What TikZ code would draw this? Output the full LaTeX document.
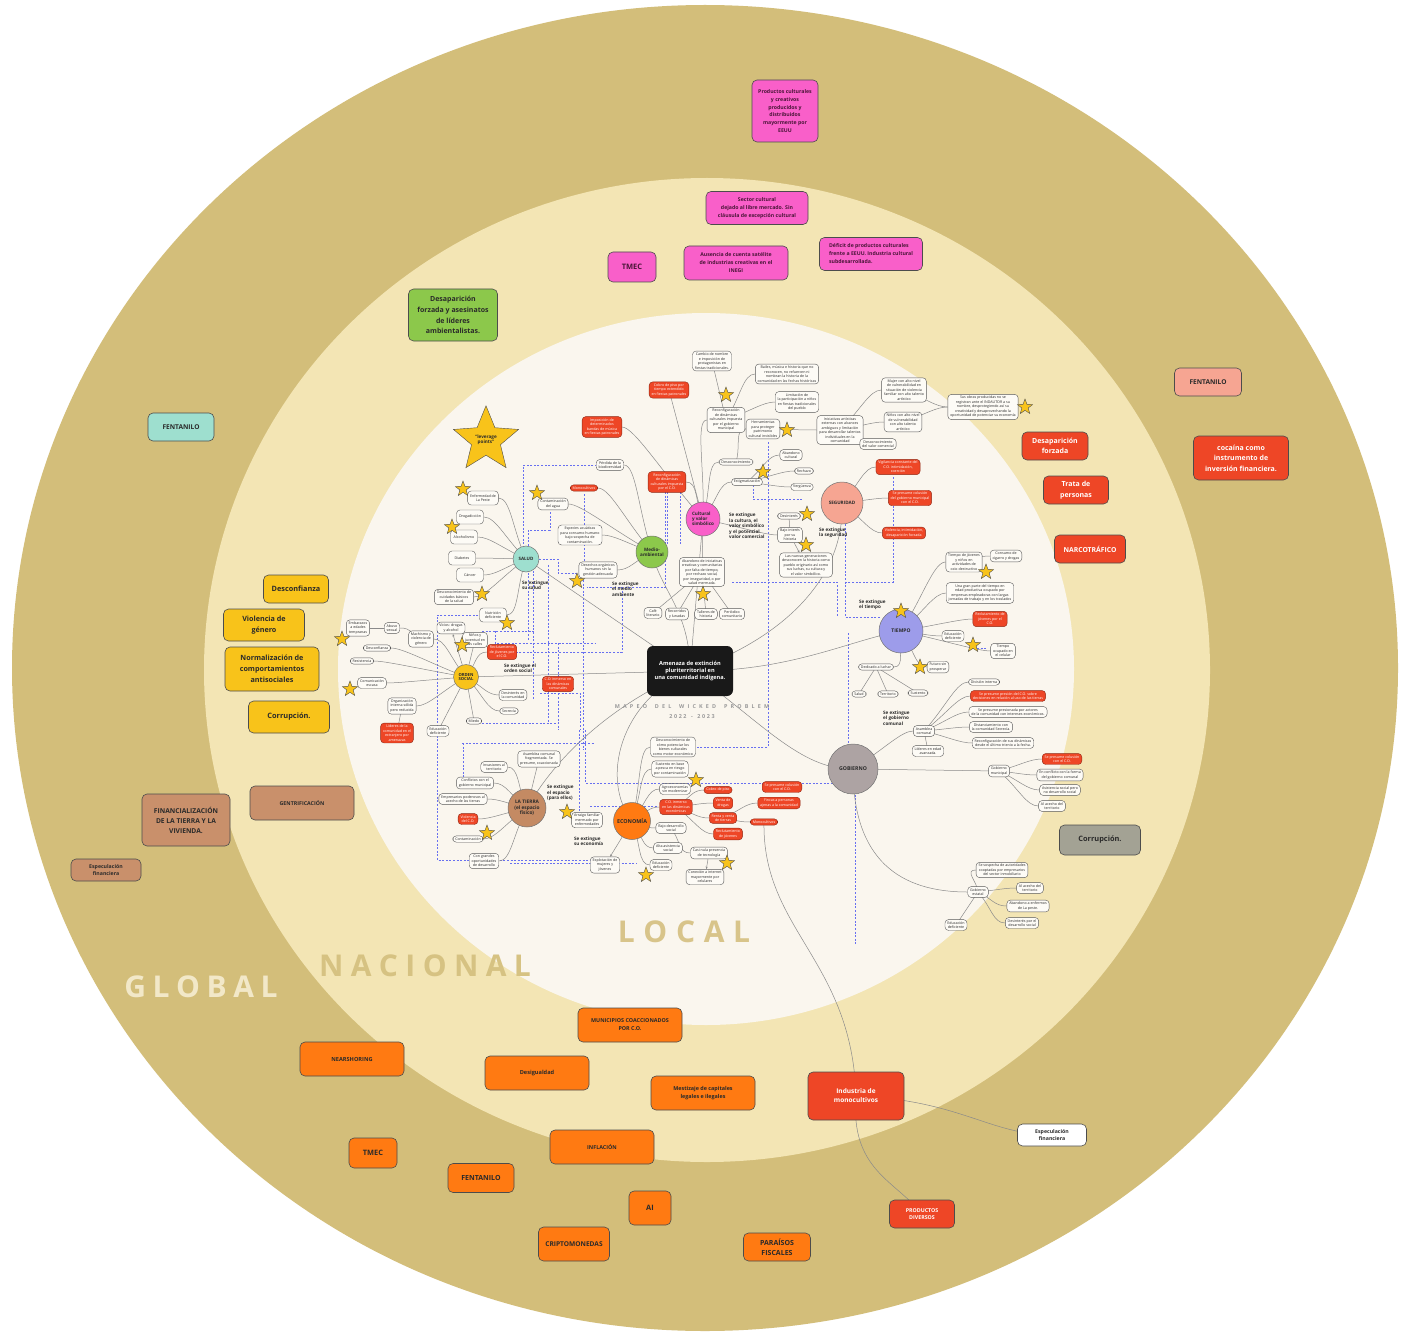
\documentclass[tikz,border=0pt]{standalone}
\usepackage{fontspec}
\setmainfont{Open Sans}
\usetikzlibrary{shapes.geometric,calc,arrows.meta}
\pgfdeclarelayer{rings}
\pgfdeclarelayer{edges}
\pgfsetlayers{rings,edges,main}
\definecolor{ringA}{HTML}{D3BE7A}
\definecolor{ringB}{HTML}{F3E5B4}
\definecolor{ringC}{HTML}{FAF6EE}
\definecolor{pinkc}{HTML}{F95FC9}
\definecolor{redc}{HTML}{EE4626}
\definecolor{orangec}{HTML}{FF7A12}
\definecolor{yellowc}{HTML}{F8C31A}
\definecolor{greenc}{HTML}{8CC84B}
\definecolor{brownc}{HTML}{C9906B}
\definecolor{salmonc}{HTML}{F6A592}
\definecolor{tealc}{HTML}{9EDFCF}
\definecolor{grayc}{HTML}{A3A294}
\definecolor{lilac}{HTML}{9D9CEA}
\definecolor{gobc}{HTML}{ADA3A3}
\definecolor{tierrac}{HTML}{C48A63}
\definecolor{leaffill}{HTML}{FDFBF6}
\definecolor{conncol}{HTML}{8A8A8A}
\definecolor{dashcol}{HTML}{6870F0}
\definecolor{inkc}{HTML}{2A2A2A}
\definecolor{pinkink}{HTML}{4A1538}
\definecolor{globalc}{HTML}{F2E8C8}
\definecolor{nacionalc}{HTML}{D6C282}
\definecolor{localc}{HTML}{D8C48A}
\makeatletter
\newcommand\spreadit[2]{\def\sp@gap{#1}\@tfor\sp@c:=#2\do{\sp@c\hspace{\sp@gap}}\unskip}
\makeatother
\newcommand\cnL[2]{\draw[conn] (#1.center) .. controls ($(#1.center)!0.5!(#2.east)$) and ($(#2.east)+(12,0)$) .. (#2.east);}
\newcommand\cnR[2]{\draw[conn] (#1.center) .. controls ($(#1.center)!0.5!(#2.west)$) and ($(#2.west)+(-12,0)$) .. (#2.west);}
\newcommand\cnS[2]{\draw[conn] (#1.center) -- (#2.center);}
\tikzset{
 leaf/.style={draw=black!65, fill=leaffill, line width=0.4pt, rounded corners=3.5pt, align=center, inner xsep=2.4pt, inner ysep=1.8pt, text=inkc, font=\fontsize{3.6}{4.5}\selectfont},
 rleaf/.style={leaf, fill=redc, draw=redc!60!black, text=white},
 bigleaf/.style={leaf, minimum height=14pt, minimum width=27pt},
 hub/.style={circle, draw=black!55, line width=0.5pt, align=center, inner sep=0pt, text=inkc, font=\bfseries\fontsize{4.8}{5.4}\selectfont},
 ystar/.style={star, star points=5, star point ratio=2.4, fill=yellowc, draw=black!70, line width=0.4pt, minimum size=16pt, inner sep=0pt},
 lbl/.style={align=left, anchor=west, text=inkc, inner sep=0pt, font=\bfseries\fontsize{4.6}{5.4}\selectfont},
 ext/.style={draw=black!70, line width=0.6pt, rounded corners=5pt, align=center, inner sep=1pt, text=inkc},
 conn/.style={draw=conncol, line width=0.5pt},
 dsh/.style={draw=dashcol, line width=0.85pt, dash pattern=on 2pt off 1.6pt},
}
\begin{document}
\begin{tikzpicture}[x=1pt,y=-1pt]
\useasboundingbox (0,0) rectangle (1405,1332);
\begin{pgfonlayer}{rings}
\fill[white] (0,0) rectangle (1405,1332);
\fill[ringA] (705,668) ellipse [x radius=693pt, y radius=663pt];
\fill[ringB] (707,670) ellipse [x radius=503pt, y radius=492pt];
\fill[ringC] (706,669) ellipse [x radius=368pt, y radius=356pt];
\end{pgfonlayer}

% ring titles
\node[text=globalc, font=\bfseries\fontsize{30}{30}\selectfont] (tglobal) at (201,987) {\spreadit{6.6pt}{GLOBAL}};
\node[text=nacionalc, font=\bfseries\fontsize{30}{30}\selectfont] (tnacional) at (425,966) {\spreadit{7.4pt}{NACIONAL}};
\node[text=localc, font=\bfseries\fontsize{30}{30}\selectfont] (tlocal) at (684,932) {\spreadit{8.7pt}{LOCAL}};

% ===== outer / national boxes
\node[ext, fill=pinkc, text=pinkink, minimum width=66pt, minimum height=62pt, font=\bfseries\fontsize{5.2}{7.8}\selectfont] (pc1) at (785,111) {Productos culturales\\y creativos\\producidos y\\distribuidos\\mayormente por\\EEUU};
\node[ext, fill=pinkc, text=pinkink, minimum width=102pt, minimum height=33pt, font=\bfseries\fontsize{5.2}{8}\selectfont] (pc2) at (757,208) {Sector cultural\\dejado al libre mercado. Sin\\cláusula de excepción cultural};
\node[ext, fill=pinkc, text=pinkink, minimum width=104pt, minimum height=34pt, font=\bfseries\fontsize{5.2}{8}\selectfont] (pc3) at (736,263) {Ausencia de cuenta satélite\\de industrias creativas en el\\INEGI};
\node[ext, fill=pinkc, text=pinkink, minimum width=103pt, minimum height=33pt, align=left, font=\bfseries\fontsize{5.2}{8}\selectfont] (pc4) at (871,254) {Déficit de productos culturales\\frente a EEUU. Industria cultural\\subdesarrollada.};
\node[ext, fill=pinkc, text=pinkink, minimum width=48pt, minimum height=30pt, font=\bfseries\fontsize{7.5}{9}\selectfont] (pc5) at (632,267) {TMEC};
\node[ext, fill=greenc, minimum width=89pt, minimum height=52pt, font=\bfseries\fontsize{7}{10.8}\selectfont] (gr1) at (453,315) {Desaparición\\forzada y asesinatos\\de líderes\\ambientalistas.};
\node[ext, fill=tealc, minimum width=66pt, minimum height=28pt, font=\bfseries\fontsize{6.6}{8}\selectfont] (fen1) at (181,427) {FENTANILO};
\node[ext, fill=salmonc, minimum width=67pt, minimum height=28pt, font=\bfseries\fontsize{6.6}{8}\selectfont] (fen2) at (1208,382) {FENTANILO};
\node[ext, fill=redc, text=white, minimum width=66pt, minimum height=28pt, font=\bfseries\fontsize{7}{10.5}\selectfont] (rd1) at (1055,446) {Desaparición\\forzada};
\node[ext, fill=redc, text=white, minimum width=65pt, minimum height=28pt, font=\bfseries\fontsize{7}{10.5}\selectfont] (rd2) at (1076,490) {Trata de\\personas};
\node[ext, fill=redc, text=white, minimum width=71pt, minimum height=28pt, font=\bfseries\fontsize{6.8}{8}\selectfont] (rd3) at (1090,549) {NARCOTRÁFICO};
\node[ext, fill=redc, text=white, minimum width=95pt, minimum height=44pt, font=\bfseries\fontsize{7}{10.5}\selectfont] (rd4) at (1241,458) {cocaína como\\instrumento de\\inversión financiera.};
\node[ext, fill=yellowc, minimum width=65pt, minimum height=28pt, font=\bfseries\fontsize{7.3}{9}\selectfont] (yl1) at (296,589) {Desconfianza};
\node[ext, fill=yellowc, minimum width=81pt, minimum height=32pt, font=\bfseries\fontsize{7.2}{10.5}\selectfont] (yl2) at (264,625) {Violencia de\\género};
\node[ext, fill=yellowc, minimum width=94pt, minimum height=44pt, font=\bfseries\fontsize{7.2}{11}\selectfont] (yl3) at (272,669) {Normalización de\\comportamientos\\antisociales};
\node[ext, fill=yellowc, minimum width=81pt, minimum height=32pt, font=\bfseries\fontsize{7.4}{9}\selectfont] (yl4) at (289,717) {Corrupción.};
\node[ext, fill=brownc, minimum width=104pt, minimum height=34pt, font=\bfseries\fontsize{5.3}{7}\selectfont] (br1) at (302,803) {GENTRIFICACIÓN};
\node[ext, fill=brownc, minimum width=88pt, minimum height=52pt, font=\bfseries\fontsize{6.7}{10}\selectfont] (br2) at (186,820) {FINANCIALIZACIÓN\\DE LA TIERRA Y LA\\VIVIENDA.};
\node[ext, fill=brownc, minimum width=70pt, minimum height=22pt, font=\bfseries\fontsize{5.2}{7}\selectfont] (br3) at (106,870) {Especulación\\financiera};
\node[ext, fill=grayc, minimum width=81pt, minimum height=30pt, font=\bfseries\fontsize{7.4}{9}\selectfont] (gy1) at (1100,840) {Corrupción.};
\node[ext, fill=orangec, minimum width=104pt, minimum height=34pt, font=\bfseries\fontsize{5.4}{8}\selectfont] (or1) at (630,1025) {MUNICIPIOS COACCIONADOS\\POR C.O.};
\node[ext, fill=orangec, minimum width=104pt, minimum height=34pt, font=\bfseries\fontsize{5.6}{8}\selectfont] (or2) at (352,1059) {NEARSHORING};
\node[ext, fill=orangec, minimum width=104pt, minimum height=34pt, font=\bfseries\fontsize{5.6}{8}\selectfont] (or3) at (537,1073) {Desigualdad};
\node[ext, fill=orangec, minimum width=104pt, minimum height=34pt, font=\bfseries\fontsize{5.4}{8}\selectfont] (or4) at (703,1093) {Mestizaje de capitales\\legales e ilegales};
\node[ext, fill=orangec, minimum width=104pt, minimum height=34pt, font=\bfseries\fontsize{5.4}{8}\selectfont] (or5) at (602,1147) {INFLACIÓN};
\node[ext, fill=orangec, minimum width=48pt, minimum height=30pt, font=\bfseries\fontsize{7.4}{9}\selectfont] (or6) at (373,1153) {TMEC};
\node[ext, fill=orangec, minimum width=66pt, minimum height=29pt, font=\bfseries\fontsize{7}{9}\selectfont] (or7) at (481,1178) {FENTANILO};
\node[ext, fill=orangec, minimum width=42pt, minimum height=34pt, font=\bfseries\fontsize{7.4}{9}\selectfont] (or8) at (650,1208) {AI};
\node[ext, fill=orangec, minimum width=71pt, minimum height=34pt, font=\bfseries\fontsize{6.6}{9}\selectfont] (or9) at (574,1244) {CRIPTOMONEDAS};
\node[ext, fill=orangec, minimum width=67pt, minimum height=28pt, font=\bfseries\fontsize{7}{10}\selectfont] (or10) at (777,1247) {PARAÍSOS\\FISCALES};
\node[ext, fill=redc, text=white, minimum width=96pt, minimum height=48pt, font=\bfseries\fontsize{6.5}{9}\selectfont] (ind) at (856,1096) {Industria de\\monocultivos};
\node[ext, fill=white, minimum width=69pt, minimum height=22pt, font=\bfseries\fontsize{5.2}{7}\selectfont] (esp2) at (1052,1135) {Especulación\\financiera};
\node[ext, fill=redc, text=white, minimum width=65pt, minimum height=28pt, font=\bfseries\fontsize{5.3}{7}\selectfont] (prod) at (922,1214) {PRODUCTOS\\DIVERSOS};

% ===== center
\node[fill=black!90, rounded corners=6pt, minimum width=86pt, minimum height=50pt, text=white, align=center, font=\bfseries\fontsize{5.6}{7}\selectfont] (X) at (690,671) {Amenaza de extinción\\pluriterritorial en\\una comunidad indígena.};
\node[text=black!40, font=\bfseries\fontsize{5.4}{6}\selectfont] (mapeo) at (692,707) {\spreadit{3.2pt}{MAPEO~DEL~WICKED~PROBLEM}};
\node[text=black!40, font=\bfseries\fontsize{5.4}{6}\selectfont] (years) at (692,717) {\spreadit{1.6pt}{2022~-~2023}};
\node[ystar, minimum size=66pt, star point ratio=2.25, font=\bfseries\fontsize{4.6}{5.2}\selectfont, text=inkc, align=center] (lev) at (486,440) {“leverage\\points”};

% ===== SALUD
\node[hub, fill=tealc, minimum size=26pt, font=\bfseries\fontsize{4.5}{5}\selectfont] (S) at (526,559) {SALUD};
\node[bigleaf] (s1) at (483,498) {Enfermedad de\\La Peste};
\node[bigleaf] (s2) at (470,517) {Drogadicción};
\node[bigleaf] (s3) at (464,537) {Alcoholismo};
\node[bigleaf] (s4) at (462,558) {Diabetes};
\node[bigleaf] (s5) at (470,575) {Cáncer};
\node[leaf] (s6) at (454,597) {Desconocimiento de\\cuidados básicos\\de la salud};
\node[bigleaf] (s7) at (493,615) {Nutrición\\deficiente};
\node[ystar] (k1) at (463,489) {};
\node[ystar] (k2) at (452,527) {};
\node[ystar] (k3) at (482,594) {};
\node[ystar] (k4) at (507,623) {};
\node[lbl] (ls) at (522,585) {Se extingue\\su salud};

% ===== MEDIO AMBIENTAL
\node[hub, fill=greenc, minimum size=32pt, font=\bfseries\fontsize{4.6}{5.2}\selectfont] (M) at (652,552) {Medio-\\ambiental};
\node[leaf] (m1) at (610,465) {Pérdida de la\\biodiversidad};
\node[rleaf] (m2) at (584,488) {Monocultivos};
\node[leaf] (m3) at (553,504) {Contaminación\\del agua};
\node[leaf] (m4) at (580,535) {Especies acuáticas\\para consumo humano\\bajo sospecha de\\contaminación.};
\node[leaf] (m5) at (598,570) {Desechos orgánicos\\humanos sin la\\gestión adecuada};
\node[ystar] (k5) at (537,493) {};
\node[ystar] (k6) at (577,581) {};
\node[lbl] (lm) at (612,589) {Se extingue\\el medio\\ambiente};

% ===== CULTURAL
\node[hub, fill=pinkc, minimum size=34pt, align=left, font=\bfseries\fontsize{4.6}{5.2}\selectfont] (C) at (703,519) {Cultural\\y valor\\simbólico};
\node[rleaf] (c1) at (667,482) {Reconfiguración\\de dinámicas\\culturales impuesta\\por el C.O.};
\node[rleaf] (c2) at (669,390) {Cobro de piso por\\tiempo extendido\\en fiestas patronales};
\node[rleaf] (c3) at (602,427) {Imposición de\\determinados\\bandas de música\\en fiestas patronales};
\node[leaf] (c4) at (726,420) {Reconfiguración\\de dinámicas\\culturales impuesta\\por el gobierno\\municipal};
\node[leaf] (c5) at (712,361) {Cambio de nombre\\e imposición de\\protagonistas en\\fiestas tradicionales.};
\node[leaf] (c6) at (787,374) {Bailes, música e historia que no\\reconocen, no refuercen ni\\nombran la historia de la\\comunidad en las fechas históricas};
\node[leaf] (c7) at (797,402) {Limitación de\\la participación a niños\\en fiestas tradicionales\\del pueblo};
\node[leaf] (c8) at (763,429) {Herramientas\\para proteger\\patrimonio\\cultural invisibles};
\node[leaf] (c9) at (840,430) {Iniciativas artísticas\\externas con alcances\\ambiguos y limitación\\para desarrollar talentos\\individuales en la\\comunidad};
\node[leaf] (c10) at (878,444) {Desconocimiento\\del valor comercial};
\node[leaf] (c11) at (904,390) {Mujer con alto nivel\\de vulnerabilidad en\\situación de violencia\\familiar con alto talento\\artístico};
\node[leaf] (c12) at (903,422) {Niños con alto nivel\\de vulnerabilidad\\con alto talento\\artístico};
\node[leaf] (c13) at (983,407) {Sus obras producidas no se\\registran ante el INDAUTOR a su\\nombre, desprotegiendo así su\\creatividad y desaprovechando la\\oportunidad de potenciar su economía};
\node[leaf] (c14) at (736,462) {Desconocimiento};
\node[leaf] (c15) at (791,455) {Abandono\\cultural};
\node[leaf] (c16) at (804,471) {Rechazo};
\node[leaf] (c17) at (747,482) {Estigmatización};
\node[leaf] (c18) at (802,487) {Vergüenza};
\node[leaf] (c19) at (789,516) {Desinterés};
\node[leaf] (c20) at (790,535) {Bajo interés\\por su\\historia};
\node[leaf] (c21) at (806,565) {Las nuevas generaciones\\desconocen la historia como\\pueblo originario así como\\sus luchas, su cultura y\\el valor simbólico.};
\node[leaf] (c22) at (702,572) {Abandono de iniciativas\\creativas y comunitarias\\por falta de tiempo,\\por rechazo social,\\por inseguridad, o por\\salud mermada.};
\node[leaf] (c23) at (653,613) {Café\\literario};
\node[leaf] (c24) at (677,614) {Recorridos\\y lunadas};
\node[leaf] (c25) at (706,614) {Talleres de\\historia};
\node[leaf] (c26) at (732,614) {Periódico\\comunitario};
\node[ystar] (k7) at (726,395) {};
\node[ystar] (k8) at (787,430) {};
\node[ystar] (k9) at (1025,407) {};
\node[ystar] (k10) at (763,472) {};
\node[ystar] (k11) at (807,514) {};
\node[ystar] (k12) at (806,545) {};
\node[ystar] (k13) at (703,594) {};
\node[lbl] (lc) at (729,526) {Se extingue\\la cultura, el\\valor simbólico\\y el potencial\\valor comercial};

% ===== SEGURIDAD
\node[hub, fill=salmonc, minimum size=42pt, font=\bfseries\fontsize{4.6}{5.2}\selectfont] (G) at (842,503) {SEGURIDAD};
\node[rleaf] (g1) at (898,467) {Vigilancia constante del\\C.O. intimidación,\\coerción};
\node[rleaf] (g2) at (910,498) {Se presume colusión\\del gobierno municipal\\con el C.O.};
\node[rleaf] (g3) at (904,533) {Violencia, intimidación,\\desaparición forzada};
\node[lbl] (lg) at (819,533) {Se extingue\\la seguridad};

% ===== TIEMPO
\node[hub, fill=lilac, minimum size=44pt, font=\bfseries\fontsize{5}{5.6}\selectfont] (T) at (901,631) {TIEMPO};
\node[leaf] (t1) at (964,562) {Tiempo de jóvenes\\y niños en\\actividades de\\ocio destructivo};
\node[leaf] (t2) at (1006,556) {Consumo de\\cigarro y drogas};
\node[leaf] (t3) at (980,593) {Una gran parte del tiempo en\\edad productiva ocupado por\\empresas empleadoras con largas\\jornadas de trabajo y en los traslados};
\node[rleaf] (t4) at (990,619) {Reclutamiento de\\jóvenes por el\\C.O.};
\node[leaf] (t5) at (953,636) {Educación\\deficiente};
\node[leaf] (t6) at (1003,651) {Tiempo\\ocupado en\\el celular};
\node[leaf] (t7) at (938,667) {Futuro sin\\prosperar};
\node[leaf] (t8) at (876,667) {Dedicado a luchar};
\node[leaf] (t9) at (859,694) {Salud};
\node[leaf] (t10) at (888,694) {Territorio};
\node[leaf] (t11) at (918,693) {Sustento};
\node[ystar] (k14) at (986,572) {};
\node[ystar] (k15) at (901,611) {};
\node[ystar] (k16) at (973,645) {};
\node[ystar] (k17) at (920,667) {};
\node[lbl] (lt) at (859,605) {Se extingue\\el tiempo};

% ===== GOBIERNO
\node[hub, fill=gobc, minimum size=50pt, font=\bfseries\fontsize{5.2}{5.8}\selectfont] (O) at (853,769) {GOBIERNO};
\node[lbl] (lo) at (883,718) {Se extingue\\el gobierno\\comunal};
\node[leaf] (o1) at (924,731) {Asamblea\\comunal};
\node[leaf] (o2) at (984,682) {División interna};
\node[rleaf] (o3) at (1008,696) {Se presume presión del C.O. sobre\\decisiones en relación al uso de las tierras};
\node[leaf] (o4) at (1008,712) {Se presume presionada por actores\\de la comunidad con intereses económicos.};
\node[leaf] (o5) at (991,727) {Distanciamiento con\\la comunidad Secrecía.};
\node[leaf] (o6) at (1003,743) {Reconfiguración de sus dinámicas\\desde el último trienio a la fecha.};
\node[leaf] (o7) at (928,751) {Líderes en edad\\avanzada.};
\node[leaf] (o8) at (999,771) {Gobierno\\municipal};
\node[rleaf] (o9) at (1062,759) {Se presume colusión\\con el C.O.};
\node[leaf] (o10) at (1060,775) {En conflicto con la forma\\del gobierno comunal};
\node[leaf] (o11) at (1060,790) {Asistencia social pero\\no desarrollo social};
\node[leaf] (o12) at (1052,806) {Al acecho del\\territorio};
\node[leaf] (o13) at (1002,870) {Se sospecha de autoridades\\cooptadas por empresarios\\del sector inmobiliario};
\node[leaf] (o14) at (978,892) {Gobierno\\estatal};
\node[leaf] (o15) at (1030,888) {Al acecho del\\territorio};
\node[leaf] (o16) at (1028,906) {Abandono a enfermos\\de La peste.};
\node[leaf] (o17) at (1022,923) {Desinterés por el\\desarrollo social};
\node[leaf] (o18) at (956,925) {Educación\\deficiente};

% ===== ORDEN SOCIAL
\node[hub, fill=yellowc, minimum size=25pt, font=\bfseries\fontsize{4.2}{4.6}\selectfont] (R) at (466,677) {ORDEN\\SOCIAL};
\node[leaf] (r1) at (358,628) {Embarazos\\a edades\\tempranas};
\node[leaf] (r2) at (392,628) {Abuso\\sexual};
\node[leaf] (r3) at (421,639) {Machismo y\\violencia de\\género};
\node[leaf] (r4) at (451,628) {Vicios: drogas\\y alcohol};
\node[leaf] (r5) at (475,640) {Niños y\\juventud en\\las calles};
\node[rleaf] (r6) at (502,652) {Reclutamiento\\de jóvenes por\\el C.O.};
\node[leaf] (r7) at (377,648) {Desconfianza};
\node[leaf] (r8) at (362,661) {Resistencia};
\node[leaf] (r9) at (372,683) {Comunicación\\escasa};
\node[leaf] (r10) at (402,706) {Organización\\interna sólida\\pero reducida};
\node[rleaf] (r11) at (397,733) {Líderes de la\\comunidad en el\\extranjero por\\amenazas};
\node[leaf] (r12) at (438,731) {Educación\\deficiente};
\node[leaf] (r13) at (474,721) {Miedo};
\node[leaf] (r14) at (509,711) {Secrecía};
\node[leaf] (r15) at (513,695) {Desinterés en\\la comunidad};
\node[rleaf] (r16) at (558,684) {C.O. inmerso en\\las dinámicas\\comunales};
\node[ystar] (k18) at (342,639) {};
\node[ystar] (k19) at (462,645) {};
\node[ystar] (k20) at (350,689) {};
\node[lbl] (lr) at (504,668) {Se extingue el\\orden social};

% ===== LA TIERRA
\node[hub, fill=tierrac, minimum size=38pt, font=\bfseries\fontsize{4.8}{5.4}\selectfont] (L) at (527,808) {LA TIERRA\\(el espacio\\físico)};
\node[leaf] (l1) at (494,767) {Invasiones al\\territorio};
\node[leaf] (l2) at (539,759) {Asamblea comunal\\fragmentada. Se\\presume, coaccionada};
\node[leaf] (l3) at (475,783) {Conflictos con el\\gobierno municipal};
\node[leaf] (l4) at (463,799) {Empresarios poderosos al\\acecho de las tierras};
\node[rleaf] (l5) at (468,819) {Violencia\\del C.O.};
\node[leaf] (l6) at (468,839) {Contaminación};
\node[leaf] (l7) at (484,861) {Con grandes\\oportunidades\\de desarrollo};
\node[leaf] (l8) at (587,820) {Arraigo familiar\\mermado por\\enfermedades};
\node[ystar] (k21) at (487,833) {};
\node[ystar] (k22) at (567,812) {};
\node[lbl] (ll) at (547,793) {Se extingue\\el espacio\\(para ellos)};

% ===== ECONOMIA
\node[hub, fill=orangec, minimum size=37pt, font=\bfseries\fontsize{5.4}{6}\selectfont] (E) at (632,821) {ECONOMÍA};
\node[leaf] (e1) at (673,747) {Desconocimiento de\\cómo potenciar los\\bienes culturales\\como motor económico};
\node[leaf] (e2) at (670,769) {Sustento en base\\a pesca en riesgo\\por contaminación};
\node[leaf] (e3) at (675,789) {Agroeconomías\\sin modernizar};
\node[rleaf] (e4) at (676,807) {C.O. inmerso\\en las dinámicas\\económicas};
\node[rleaf] (e5) at (718,790) {Cobro de piso};
\node[rleaf] (e6) at (723,803) {Venta de\\drogas};
\node[rleaf] (e7) at (723,818) {Renta y venta\\de tierras};
\node[rleaf] (e8) at (728,834) {Reclutamiento\\de jóvenes};
\node[rleaf] (e9) at (782,787) {Se presume colusión\\con el C.O.};
\node[rleaf] (e10) at (779,803) {Fincas a personas\\ajenas a la comunidad};
\node[rleaf] (e11) at (764,822) {Monocultivos};
\node[leaf] (e12) at (671,828) {Bajo desarrollo\\social};
\node[leaf] (e13) at (668,848) {Alta asistencia\\social};
\node[leaf] (e14) at (709,853) {Casi nula presencia\\de tecnología};
\node[leaf] (e15) at (661,865) {Educación\\deficiente};
\node[leaf] (e16) at (705,877) {Conexión a internet\\mayormente por\\celulares};
\node[leaf] (e17) at (605,865) {Explotación de\\mujeres y\\jóvenes};
\node[ystar] (k23) at (696,780) {};
\node[ystar] (k24) at (727,863) {};
\node[ystar] (k25) at (646,875) {};
\node[lbl] (le) at (574,841) {Se extingue\\su economía};

% ===== connectors
\begin{pgfonlayer}{edges}
% dashed network
\draw[dsh] (597,465) -- (523,465) -- (523,546);
\draw[dsh] (584,494) -- (584,573) -- (598,573);
\draw[dsh] (550,512) -- (550,530) -- (528,530) -- (528,640);
\draw[dsh] (539,559) -- (558,559) -- (558,573) -- (577,573);
\draw[dsh] (665,492) -- (665,587) -- (587,587);
\draw[dsh] (622,587) -- (622,652) -- (515,652);
\draw[dsh] (558,643) -- (558,730);
\draw[dsh] (768,442) -- (768,747) -- (697,747);
\draw[dsh] (732,582) -- (837,582) -- (837,617);
\draw[dsh] (845,524) -- (845,617) -- (880,617);
\draw[dsh] (893,477) -- (893,582) -- (845,582);
\draw[dsh] (848,633) -- (848,747);
\draw[dsh] (585,730) -- (585,783) -- (855,783) -- (855,945);
\draw[dsh] (482,615) -- (437,615) -- (437,860) -- (590,860);
\draw[dsh] (482,631) -- (535,631);
\draw[dsh] (495,631) -- (495,643) -- (595,643);
\draw[dsh] (533,560) -- (533,700);
\draw[dsh] (548,565) -- (548,723);
\draw[dsh] (482,723) -- (558,723);
\draw[dsh] (462,743) -- (595,743);
\draw[dsh] (463,743) -- (463,778);
\draw[dsh] (583,580) -- (583,750);
\draw[dsh] (579,730) -- (579,827);
\draw[dsh] (510,863) -- (637,863);
\draw[dsh] (590,806) -- (657,806);
\draw[dsh] (753,485) -- (753,499) -- (803,499);
\draw[dsh] (667,492) -- (667,545);
\draw[dsh] (680,492) -- (680,545);
\draw[dsh] (977,648) -- (987,648);
\draw[dsh] (540,693) -- (580,693) -- (580,730);
% center to hubs
\cnS{X}{S}
\draw[conn] (X.center) .. controls (690,610) and (660,590) .. (M.center);
\cnS{X}{C}
\draw[conn] (X.center) .. controls (780,640) and (845,580) .. (G.center);
\draw[conn] (X.center) .. controls (790,672) and (850,640) .. (T.center);
\draw[conn] (X.center) .. controls (760,720) and (800,770) .. (O.center);
\cnS{X}{R}
\draw[conn] (X.center) .. controls (620,700) and (560,750) .. (L.center);
\draw[conn] (X.center) .. controls (620,700) and (600,780) .. (E.center);
% salud
\cnL{S}{s1}\cnL{S}{s2}\cnL{S}{s3}\cnL{S}{s4}\cnL{S}{s5}\cnL{S}{s6}\cnL{S}{s7}
% medio
\cnL{M}{m1}\cnL{M}{m2}\cnL{M}{m3}\cnL{M}{m4}\cnL{M}{m5}
% cultural
\cnL{C}{c1}\cnS{C}{c2}\cnL{C}{c3}\cnR{C}{c4}
\cnS{c5}{c4}\cnR{c4}{c6}\cnR{c4}{c7}\cnR{c4}{c8}
\cnR{C}{c14}\cnR{c14}{c8}
\cnR{c8}{c9}\cnR{c9}{c10}\cnR{c9}{c11}\cnR{c9}{c12}\cnR{c11}{c13}\cnR{c12}{c13}
\cnR{C}{c17}\cnR{c17}{c15}\cnR{c17}{c16}\cnR{c17}{c18}
\cnR{C}{c20}\cnS{c19}{c20}
\draw[conn,-{Stealth[length=2.5pt,width=2pt]}] (c20) -- (c21);
\cnS{C}{c22}\cnS{c22}{c23}\cnS{c22}{c24}\cnS{c22}{c25}\cnS{c22}{c26}
% seguridad
\cnR{G}{g1}\cnR{G}{g2}\cnR{G}{g3}
% tiempo
\cnR{T}{t1}\cnR{t1}{t2}\cnR{T}{t3}\cnR{T}{t4}\cnR{T}{t5}\cnR{T}{t6}\cnR{T}{t7}\cnL{T}{t8}
\cnS{t8}{t9}\cnS{t8}{t10}\cnS{t8}{t11}
% gobierno
\cnR{O}{o1}\cnR{o1}{o2}\cnR{o1}{o3}\cnR{o1}{o4}\cnR{o1}{o5}\cnR{o1}{o6}\cnS{o1}{o7}
\cnS{O}{o8}\cnR{o8}{o9}\cnR{o8}{o10}\cnR{o8}{o11}\cnR{o8}{o12}
\draw[conn] (O.center) .. controls (853,860) and (900,892) .. (o14.west);
\cnR{o14}{o13}\cnR{o14}{o15}\cnR{o14}{o16}\cnR{o14}{o17}\cnS{o14}{o18}
% orden social
\cnL{R}{r3}\cnL{r3}{r2}\cnL{r2}{r1}
\draw[conn,-{Stealth[length=2.5pt,width=2pt]}] (R) -- (r4);
\cnS{R}{r5}\cnR{R}{r6}\cnL{R}{r7}\cnL{R}{r8}\cnL{R}{r9}\cnL{R}{r10}\cnS{r10}{r11}
\cnS{R}{r12}\cnS{R}{r13}\cnR{R}{r14}\cnR{R}{r15}
% tierra
\cnL{L}{l1}\cnS{L}{l2}\cnL{L}{l3}\cnL{L}{l4}\cnL{L}{l5}\cnL{L}{l6}\cnL{L}{l7}
% economia
\cnR{E}{e1}\cnR{E}{e2}\cnR{E}{e3}\cnR{E}{e4}
\cnR{e4}{e5}\cnR{e4}{e6}\cnR{e4}{e7}\cnR{e4}{e8}\cnR{e7}{e10}\cnR{e7}{e11}
\cnR{E}{e12}\cnR{E}{e13}\cnR{E}{e15}\cnR{e12}{e14}
\draw[conn,-{Stealth[length=2.5pt,width=2pt]}] (e14) -- (e16);
\draw[conn,-{Stealth[length=2.5pt,width=2pt]}] (E) -- (e17);
% monocultivos outward
\draw[conn] (e11.center) .. controls (762,930) and (852,960) .. (ind.center);
\draw[conn] (ind.center) .. controls (960,1100) and (990,1135) .. (esp2.center);
\draw[conn] (ind.center) .. controls (850,1170) and (895,1180) .. (prod.center);
\end{pgfonlayer}
\end{tikzpicture}
\end{document}
